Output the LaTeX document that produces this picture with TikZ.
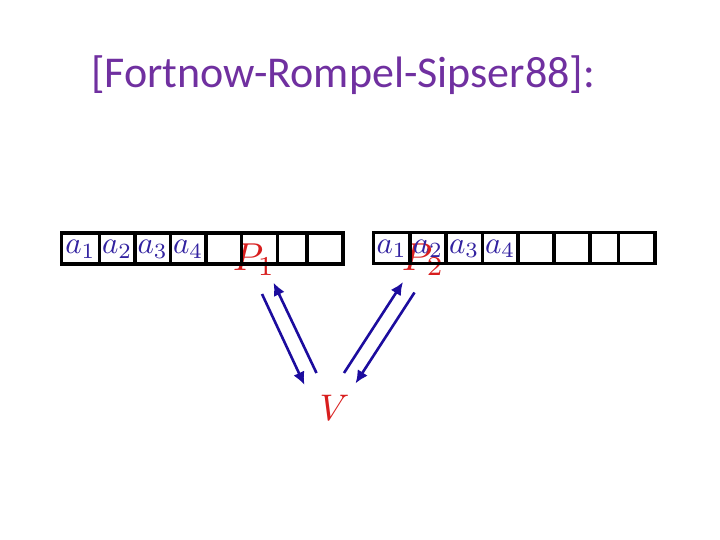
\documentclass[tikz,border=0pt]{standalone}
\usepackage{fontspec}
\usetikzlibrary{arrows.meta}
\newfontfamily\titlefont{Carlito}
\definecolor{titlepurple}{HTML}{7030A0}
\definecolor{avar}{HTML}{3222A0}
\definecolor{arrowblue}{HTML}{1C0C9E}
\definecolor{pred}{HTML}{D81E1E}
\begin{document}
\begin{tikzpicture}[x=1pt,y=-1pt,
  cell/.style={draw=black,line width=3.2pt,inner sep=0pt,minimum height=31pt},
  aval/.style={text=avar,inner sep=0pt,scale=3.1},
  msg/.style={draw=arrowblue,line width=2.6pt,-{Latex[length=13pt,width=12pt]}},
  plabel/.style={text=pred,inner sep=0pt,scale=3.9}]
\useasboundingbox (0,0) rectangle (720,540);
\node[text=titlepurple,font=\titlefont\fontsize{44}{44}\selectfont,anchor=base west,inner sep=0pt] (title) at (91,88) {[Fortnow-Rompel-Sipser88]:};
% provers and verifier (drawn under the tapes)
\node[plabel,anchor=base west] (P1) at (232,270) {$P_{1}$};
\node[plabel,anchor=base west] (P2) at (401,270) {$P_{2}$};
\node[plabel,anchor=base west,scale=0.95] (V) at (319,420) {$V$};
% left tape
\foreach \n/\a/\b in {1/61.5/99.5,2/99.5/135,3/135/170.5,4/170.5/206,5/206/241.5,6/241.5/277.5,7/277.5/307,8/307/343}{
  \pgfmathsetmacro\w{\b-\a}
  \node[cell,minimum width=\w pt] (L\n) at ({(\a+\b)/2},248.5) {};
}
% right tape
\foreach \n/\a/\b in {1/373.5/410,2/410/446,3/446/482.5,4/482.5/518,5/518/554,6/554/590,7/590/618.5,8/618.5/655}{
  \pgfmathsetmacro\w{\b-\a}
  \node[cell,minimum width=\w pt] (R\n) at ({(\a+\b)/2},248) {};
}
\foreach \i in {1,...,4}{
  \node[aval] (La\i) at ([yshift=-1pt]L\i) {$a_{\i}$};
  \node[aval] (Ra\i) at ([yshift=-1pt]R\i) {$a_{\i}$};
}
% arrow endpoints
\coordinate (p1out) at (262,294);
\coordinate (v1in) at (304.5,385);
\coordinate (v1out) at (316.5,373);
\coordinate (p1in) at (273.5,282.5);
\coordinate (v2out) at (344,373);
\coordinate (p2in) at (403,282);
\coordinate (p2out) at (414.5,292.5);
\coordinate (v2in) at (355.5,383.5);
\draw[msg] (p1out) -- (v1in);
\draw[msg] (v1out) -- (p1in);
\draw[msg] (v2out) -- (p2in);
\draw[msg] (p2out) -- (v2in);
\end{tikzpicture}
\end{document}
